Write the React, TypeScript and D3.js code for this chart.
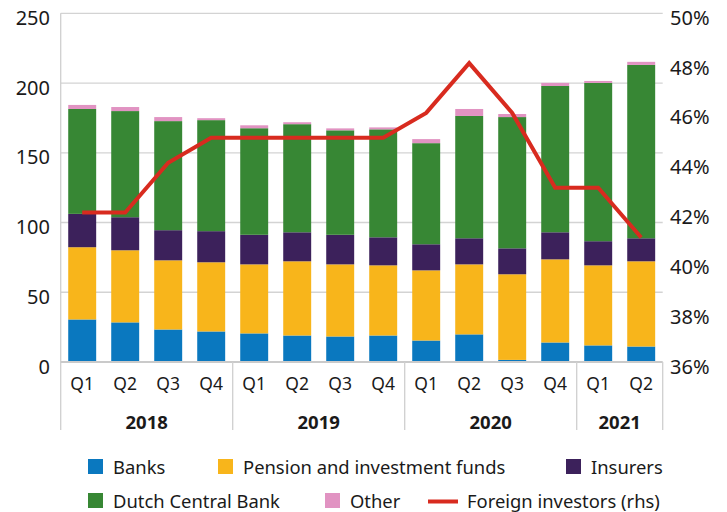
import * as d3 from "d3";

const quarters = ["Q1", "Q2", "Q3", "Q4", "Q1", "Q2", "Q3", "Q4", "Q1", "Q2", "Q3", "Q4", "Q1", "Q2"];
const years = ["2018", "2019", "2020", "2021"];
const quartersPerYear = [4, 4, 4, 2];

const banks = [30.5, 28.4, 23.3, 21.9, 20.5, 19.0, 18.3, 19.0, 15.4, 19.8, 1.5, 14.0, 11.9, 11.1];
const pensionFunds = [51.8, 51.7, 49.6, 49.6, 49.5, 53.2, 51.7, 50.3, 50.3, 50.2, 61.4, 59.6, 57.4, 61.1];
const insurers = [23.9, 23.7, 21.6, 22.3, 21.2, 20.8, 21.2, 20.1, 18.7, 18.7, 18.6, 19.4, 17.3, 16.5];
const centralBank = [75.2, 76.1, 78.2, 79.6, 76.4, 77.5, 74.9, 77.4, 72.5, 87.7, 94.1, 104.9, 113.5, 124.3];
const other = [2.9, 2.9, 2.9, 1.4, 2.1, 1.4, 1.4, 1.4, 2.9, 5.0, 2.2, 2.2, 1.4, 2.2];
const foreignInvestors = [42, 42, 44, 45, 45, 45, 45, 45, 46, 48, 46, 43, 43, 41];

const leftTicks = [0, 50, 100, 150, 200, 250];
const rightTicks = [36, 38, 40, 42, 44, 46, 48, 50];

const seriesKeys = ["banks", "pension", "insurers", "dcb", "other"];
const seriesNames = ["Banks", "Pension and investment funds", "Insurers", "Dutch Central Bank", "Other"];
const seriesColors = ["#0a78bf", "#f8b51b", "#3c215b", "#378734", "#e193c2"];
const lineColor = "#d82b1f";

const width = 727;
const height = 512;
const plot = { left: 60.7, right: 662.7, top: 13.3, bottom: 362 };
const font = "'Noto Sans', 'Open Sans', sans-serif";

export default function App() {
  const rows = quarters.map((q, i) => ({
    i,
    banks: banks[i],
    pension: pensionFunds[i],
    insurers: insurers[i],
    dcb: centralBank[i],
    other: other[i],
  }));

  const x = d3
    .scaleBand<number>()
    .domain(rows.map((d) => d.i))
    .range([plot.left, plot.right])
    .paddingInner(0.35)
    .paddingOuter(0.175);

  const y = d3.scaleLinear().domain([0, 250]).range([plot.bottom, plot.top]);
  const yPct = d3.scaleLinear().domain([36, 50]).range([plot.bottom, plot.top]);

  const stacked = d3.stack<any>().keys(seriesKeys)(rows);

  const line = d3
    .line<number>()
    .x((_, i) => (x(i) as number) + x.bandwidth() / 2)
    .y((d) => yPct(d));

  const step = x.step();
  const yearBounds: number[] = [plot.left];
  let acc = 0;
  quartersPerYear.forEach((n) => {
    acc += n;
    yearBounds.push(plot.left + acc * step);
  });
  yearBounds[yearBounds.length - 1] = plot.right;

  const legendRow1 = [
    { kind: "rect", color: seriesColors[0], label: seriesNames[0], x: 88 },
    { kind: "rect", color: seriesColors[1], label: seriesNames[1], x: 218 },
    { kind: "rect", color: seriesColors[2], label: seriesNames[2], x: 566 },
  ];
  const legendRow2 = [
    { kind: "rect", color: seriesColors[3], label: seriesNames[3], x: 88 },
    { kind: "rect", color: seriesColors[4], label: seriesNames[4], x: 325 },
    { kind: "line", color: lineColor, label: "Foreign investors (rhs)", x: 428 },
  ];

  return (
    <svg
      width={width}
      height={height}
      style={{ position: "absolute", left: 0, top: 0, background: "#fff" }}
      fontFamily={font}
    >
      {/* gridlines */}
      {leftTicks.slice(1).map((t) => (
        <line key={t} x1={plot.left} x2={plot.right} y1={y(t)} y2={y(t)} stroke="#d3d3d3" strokeWidth={1.3} />
      ))}
      <line x1={plot.left} x2={plot.left} y1={plot.top} y2={430} stroke="#cfcfcf" strokeWidth={1.3} />

      {/* bars */}
      {stacked.map((layer, k) => (
        <g key={layer.key} fill={seriesColors[k]}>
          {layer.map((d, i) => (
            <rect
              key={i}
              x={x(i)}
              width={x.bandwidth()}
              y={y(d[1])}
              height={Math.max(0, y(d[0]) - y(d[1]))}
            />
          ))}
        </g>
      ))}

      {/* x axis */}
      <line x1={plot.left} x2={plot.right} y1={plot.bottom} y2={plot.bottom} stroke="#cacaca" strokeWidth={2} />
      {yearBounds.slice(1).map((b, i) => (
        <line key={i} x1={b} x2={b} y1={plot.bottom} y2={430} stroke="#cfcfcf" strokeWidth={1.3} />
      ))}
      {quarters.map((q, i) => (
        <text
          key={i}
          x={(x(i) as number) + x.bandwidth() / 2}
          y={383}
          textAnchor="middle"
          dominantBaseline="central"
          fontSize={17.5}
          fill="#1a1a1a"
        >
          {q}
        </text>
      ))}
      {years.map((yr, i) => (
        <text
          key={yr}
          x={(yearBounds[i] + yearBounds[i + 1]) / 2}
          y={421}
          textAnchor="middle"
          dominantBaseline="central"
          fontSize={18.5}
          fontWeight="bold"
          fill="#1a1a1a"
        >
          {yr}
        </text>
      ))}

      {/* left axis */}
      {leftTicks.map((t) => (
        <text key={t} x={50} y={y(t) + 4} textAnchor="end" dominantBaseline="central" fontSize={20} fill="#1a1a1a">
          {t}
        </text>
      ))}

      {/* right axis */}
      {rightTicks.map((t) => (
        <text key={t} x={670} y={yPct(t) + 4} dominantBaseline="central" fontSize={20} fill="#1a1a1a">
          {t}%
        </text>
      ))}

      {/* foreign investors line */}
      <path d={line(foreignInvestors) || ""} fill="none" stroke={lineColor} strokeWidth={4} strokeLinejoin="miter" />

      {/* legend */}
      {[legendRow1, legendRow2].map((row, r) =>
        row.map((item) => {
          const cy = r === 0 ? 466.5 : 500.5;
          return (
            <g key={item.label}>
              {item.kind === "rect" ? (
                <rect x={item.x} y={cy - 7.5} width={15} height={15} fill={item.color} />
              ) : (
                <line x1={item.x} x2={item.x + 30} y1={cy + 1} y2={cy + 1} stroke={item.color} strokeWidth={4} />
              )}
              <text
                x={item.kind === "rect" ? item.x + 25 : item.x + 39}
                y={cy}
                dominantBaseline="central"
                fontSize={18.4}
                fill="#1a1a1a"
              >
                {item.label}
              </text>
            </g>
          );
        })
      )}
    </svg>
  );
}
